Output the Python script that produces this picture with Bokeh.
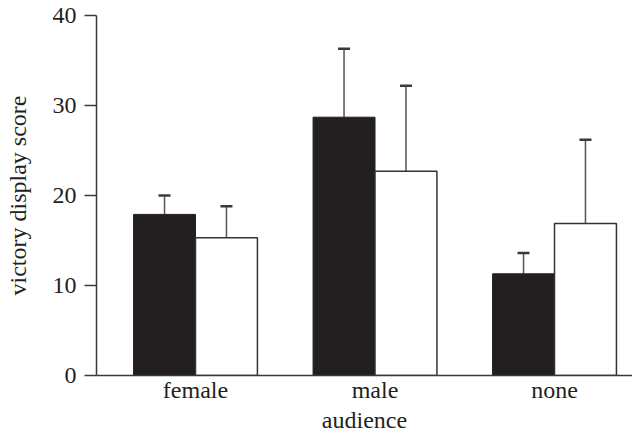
from bokeh.plotting import figure
from bokeh.models import ColumnDataSource, Whisker, TeeHead, Range1d, FixedTicker
from bokeh.embed import file_html
from bokeh.resources import INLINE

audience = ["female", "male", "none"]
filled_mean = [17.9, 28.7, 11.3]
filled_err = [2.1, 7.6, 2.3]
open_mean = [15.3, 22.7, 16.9]
open_err = [3.5, 9.5, 9.3]
y_ticks = [0, 10, 20, 30, 40]
x_title = "audience"
y_title = "victory display score"

BAR_W = 0.345
OFF = 0.1725
INK = "#231f20"
AX = "#3a3a3a"
FONT = "Liberation Serif"
FS = "24px"

idx = list(range(len(audience)))
src_f = ColumnDataSource(dict(x=[i - OFF for i in idx], top=filled_mean,
                              up=[m + e for m, e in zip(filled_mean, filled_err)]))
src_o = ColumnDataSource(dict(x=[i + OFF for i in idx], top=open_mean,
                              up=[m + e for m, e in zip(open_mean, open_err)]))

p = figure(width=632, height=435, output_backend="svg", toolbar_location=None,
           x_range=Range1d(-0.5515, 2.4345), y_range=Range1d(0, 40),
           min_border_left=96, min_border_right=0, min_border_top=15, min_border_bottom=60)
p.outline_line_color = None
p.xgrid.grid_line_color = None
p.ygrid.grid_line_color = None

for src in (src_f, src_o):
    w = Whisker(source=src, base="x", lower="top", upper="up", dimension="height",
                line_color="#555555", line_width=1.5, lower_head=None,
                upper_head=TeeHead(size=12, line_width=2.5, line_color="#3a3a3a"))
    p.add_layout(w)

p.vbar(x="x", top="top", width=BAR_W, bottom=0, source=src_f,
       fill_color=INK, line_color=INK, line_width=1)
p.vbar(x="x", top="top", width=BAR_W, bottom=0, source=src_o,
       fill_color="white", line_color="#333333", line_width=1.5)

p.xaxis.ticker = FixedTicker(ticks=idx)
p.xaxis.major_label_overrides = {i: a for i, a in zip(idx, audience)}
p.xaxis.major_tick_out = 0
p.xaxis.major_tick_in = 0
p.xaxis.minor_tick_line_color = None
p.xaxis.axis_label = x_title
p.xaxis.major_label_standoff = 1
p.xaxis.axis_label_standoff = 1

p.yaxis.ticker = FixedTicker(ticks=y_ticks)
p.yaxis.major_tick_out = 12
p.yaxis.major_tick_in = 0
p.yaxis.minor_tick_line_color = None
p.yaxis.axis_label = y_title
p.yaxis.major_label_standoff = 8
p.yaxis.axis_label_standoff = 19

for ax in (p.xaxis, p.yaxis):
    ax.axis_line_color = AX
    ax.axis_line_width = 1.5
    ax.major_tick_line_color = AX
    ax.major_tick_line_width = 1.5
    ax.major_label_text_font = FONT
    ax.major_label_text_font_size = FS
    ax.major_label_text_color = INK
    ax.axis_label_text_font = FONT
    ax.axis_label_text_font_size = FS
    ax.axis_label_text_font_style = "normal"
    ax.axis_label_text_color = INK

open("out.html", "w").write(file_html(p, INLINE))
